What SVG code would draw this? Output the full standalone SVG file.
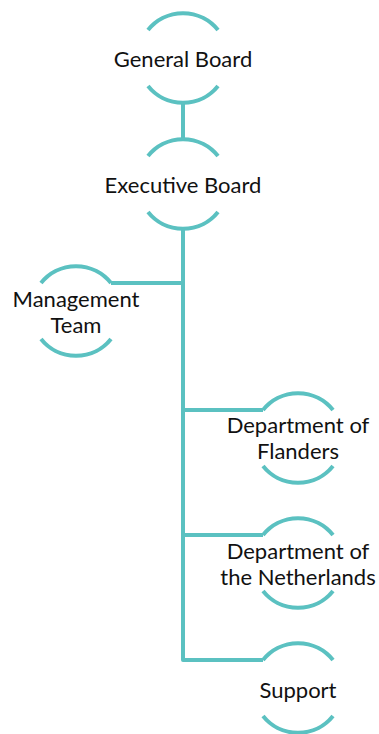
<svg xmlns="http://www.w3.org/2000/svg" width="379" height="734" viewBox="0 0 379 734">
<style>
.arc{fill:none;stroke:#5bc1c1;stroke-width:4}
.ln{fill:none;stroke:#5bc1c1;stroke-width:4;stroke-linejoin:round}
text{font-family:Lato,"Open Sans",sans-serif;font-size:22px;fill:#111;text-anchor:middle;dominant-baseline:central}
</style>
<defs>
<path id="node" class="arc" d="M-35,-28 A44.8,44.8 0 0 1 35,-28 M-35,28 A44.8,44.8 0 0 0 35,28"/>
</defs>
<g id="connectors">
<path class="ln" d="M183,103 V139"/>
<path class="ln" d="M183,229 V660 H263"/>
<path class="ln" d="M111,283 H183"/>
<path class="ln" d="M183,410 H263"/>
<path class="ln" d="M183,535 H263"/>
</g>
<g id="general-board"><use href="#node" x="183" y="58"/><text x="183" y="58">General Board</text></g>
<g id="executive-board"><use href="#node" x="183" y="184"/><text x="183" y="184">Executive Board</text></g>
<g id="management-team"><use href="#node" x="76" y="311"/><text x="76" y="298">Management</text><text x="76" y="324">Team</text></g>
<g id="dept-flanders"><use href="#node" x="298" y="438"/><text x="298" y="424">Department of</text><text x="298" y="450">Flanders</text></g>
<g id="dept-netherlands"><use href="#node" x="298" y="563"/><text x="298" y="550">Department of</text><text x="298" y="576">the Netherlands</text></g>
<g id="support"><use href="#node" x="298" y="688"/><text x="298" y="689">Support</text></g>
</svg>
